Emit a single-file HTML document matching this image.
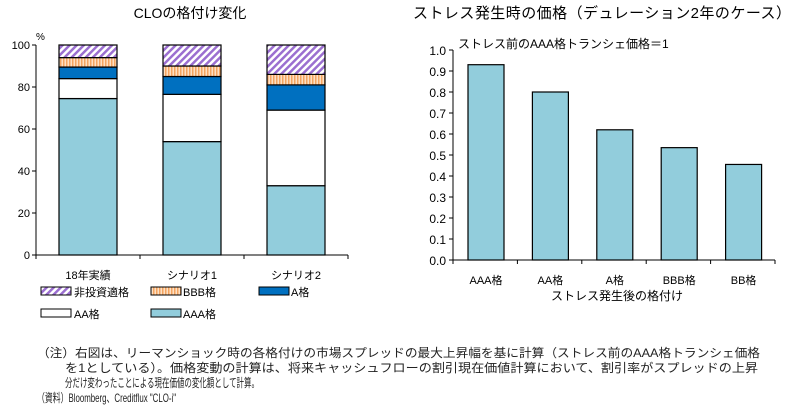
<!DOCTYPE html>
<html><head><meta charset="utf-8"><style>
html,body{margin:0;padding:0;background:#fff;}
svg{display:block;font-family:"Liberation Sans","Noto Sans CJK JP",sans-serif;}
</style></head><body>
<svg id="c" width="800" height="413" viewBox="0 0 800 413">
<defs>
<pattern id="hatch" width="5" height="5" patternUnits="userSpaceOnUse" patternTransform="rotate(45)">
<rect width="5" height="5" fill="#fff"/><rect width="2.5" height="5" fill="#9b6fd0"/></pattern>
<pattern id="vstripe" width="3" height="4" patternUnits="userSpaceOnUse">
<rect width="3" height="4" fill="#fde0c4"/><rect width="1.5" height="4" fill="#f4a460"/></pattern>
</defs>
<text x="190" y="18" font-size="14" text-anchor="middle">CLOの格付け変化</text>
<text x="602" y="18" font-size="15" text-anchor="middle" textLength="378">ストレス発生時の価格（デュレーション2年のケース）</text>
<text x="36" y="40" font-size="10">%</text>
<text x="458" y="48" font-size="12">ストレス前のAAA格トランシェ価格＝1</text>
<g id="left"></g><g id="right"></g>
<g font-size="11">
<rect x="41" y="287" width="30" height="8" fill="url(#hatch)" stroke="#000"/><text x="74" y="296">非投資適格</text>
<rect x="151" y="287" width="30" height="8" fill="url(#vstripe)" stroke="#000"/><text x="183" y="296">BBB格</text>
<rect x="259" y="287" width="30" height="8" fill="#0070c0" stroke="#000"/><text x="291" y="296">A格</text>
<rect x="41" y="309" width="30" height="8" fill="#fff" stroke="#000"/><text x="74" y="318">AA格</text>
<rect x="151" y="309" width="30" height="8" fill="#92cddc" stroke="#000"/><text x="183" y="318">AAA格</text>
</g>
<g font-size="12" fill="#222">
<text x="37" y="357" textLength="723" lengthAdjust="spacingAndGlyphs">（注）右図は、リーマンショック時の各格付けの市場スプレッドの最大上昇幅を基に計算（ストレス前のAAA格トランシェ価格</text>
<text x="65" y="372" textLength="693" lengthAdjust="spacingAndGlyphs">を1としている）。価格変動の計算は、将来キャッシュフローの割引現在価値計算において、割引率がスプレッドの上昇</text>
<text x="65" y="387" textLength="194" lengthAdjust="spacingAndGlyphs">分だけ変わったことによる現在価値の変化額として計算。</text>
<text x="37" y="402" textLength="139" lengthAdjust="spacingAndGlyphs">（資料）Bloomberg、Creditflux "CLO-i"</text>
</g>
</svg>
<script>
const leftCats=["18年実績","シナリオ1","シナリオ2"];
const aaa=[74.5,54,33];
const aa=[9.5,22.5,36];
const aRating=[5.5,8.5,12];
const bbb=[4.5,5,5];
const junk=[6,10,14];
const leftTicks=[0,20,40,60,80,100];
const rightCats=["AAA格","AA格","A格","BBB格","BB格"];
const prices=[0.93,0.80,0.62,0.535,0.455];
const rightTicks=["0.0","0.1","0.2","0.3","0.4","0.5","0.6","0.7","0.8","0.9","1.0"];
const NS="http://www.w3.org/2000/svg";
function mk(p,tag,at){const e=document.createElementNS(NS,tag);for(const k in at)e.setAttribute(k,at[k]);p.appendChild(e);return e;}
// left
const L=document.getElementById('left');
const ly=v=>255-v*2.1, lx0=36, lbw=104;
mk(L,'line',{x1:lx0,y1:45,x2:lx0,y2:255,stroke:'#000'});
mk(L,'line',{x1:lx0,y1:255,x2:lx0+lbw*3,y2:255,stroke:'#000'});
leftTicks.forEach(t=>{
 mk(L,'line',{x1:lx0-4,y1:ly(t),x2:lx0,y2:ly(t),stroke:'#000'});
 const tx=mk(L,'text',{x:lx0-6,y:ly(t)+4,'font-size':11,'text-anchor':'end'});tx.textContent=t;
 
 
});
for(let i=0;i<=3;i++)mk(L,'line',{x1:lx0+i*lbw,y1:255,x2:lx0+i*lbw,y2:259,stroke:'#000'});
const series=[[aaa,'#92cddc','aaa'],[aa,'#fff','aa'],[aRating,'#0070c0','a'],[bbb,'url(#vstripe)','bbb'],[junk,'url(#hatch)','junk']];
leftCats.forEach((c,i)=>{
 let cum=0;const x=lx0+i*lbw+23,w=58;
 series.forEach(([arr,fill,nm])=>{
  const v=arr[i];
  const r=mk(L,'rect',{x:x,y:ly(cum+v),width:w,height:v*2.1,fill:fill,stroke:'#000','stroke-width':1.2});
  
  
  cum+=v;
 });
 const t=mk(L,'text',{x:lx0+i*lbw+lbw/2,y:279,'font-size':11,'text-anchor':'middle'});t.textContent=c;
 
 
});
// right
const R=document.getElementById('right');
const ry=v=>260-v*210, rx0=453, rbw=64.4;
mk(R,'line',{x1:rx0,y1:50,x2:rx0,y2:260,stroke:'#000'});
mk(R,'line',{x1:rx0,y1:260,x2:rx0+rbw*5,y2:260,stroke:'#000'});
rightTicks.forEach(t=>{
 const v=parseFloat(t);
 mk(R,'line',{x1:rx0-4,y1:ry(v),x2:rx0,y2:ry(v),stroke:'#000'});
 const tx=mk(R,'text',{x:rx0-7,y:ry(v)+5,'font-size':12,'text-anchor':'end'});tx.textContent=t;
 
 
});
for(let i=0;i<=5;i++)mk(R,'line',{x1:rx0+i*rbw,y1:260,x2:rx0+i*rbw,y2:264,stroke:'#000'});
rightCats.forEach((c,i)=>{
 const r=mk(R,'rect',{x:rx0+i*rbw+15,y:ry(prices[i]),width:36,height:prices[i]*210,fill:'#92cddc',stroke:'#000','stroke-width':1.2});
 
 
 const t=mk(R,'text',{x:rx0+i*rbw+33,y:284,'font-size':11,'text-anchor':'middle'});t.textContent=c;
 
 
});
const xt=mk(R,'text',{x:617,y:300,'font-size':12,'text-anchor':'middle'});xt.textContent='ストレス発生後の格付け';


</script>
</body></html>
